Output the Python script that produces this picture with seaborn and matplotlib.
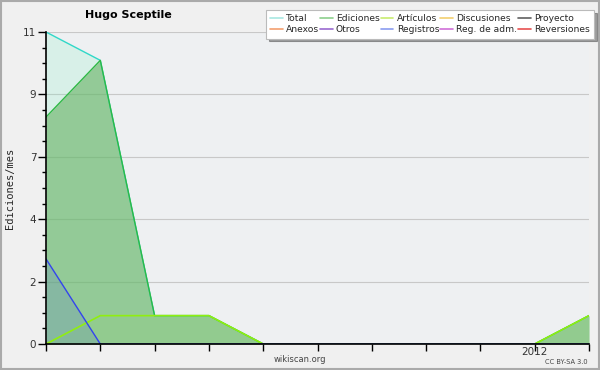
import matplotlib
matplotlib.use("Agg")
import matplotlib.pyplot as plt
import seaborn as sns
import numpy as np
import pandas as pd
from matplotlib.lines import Line2D
from matplotlib.patches import Rectangle

# ---- data ----
months = ["2011-04", "2011-05", "2011-06", "2011-07", "2011-08", "2011-09",
          "2011-10", "2011-11", "2011-12", "2012-01", "2012-02"]
total = [11, 10, 1, 1, 0, 0, 0, 0, 0, 0, 1]
ediciones = [8, 10, 1, 1, 0, 0, 0, 0, 0, 0, 1]
articulos = [0, 1, 1, 1, 0, 0, 0, 0, 0, 0, 1]
registros = [3, 0, 0, 0, 0, 0, 0, 0, 0, 0, 0]
ytick_vals = [0, 2.2, 4.4, 6.6, 8.8, 11]
ytick_labels = ["0", "2", "4", "7", "9", "11"]
xtick_labels = ["", "", "", "", "", "", "", "", "", "2012", ""]

legend_names = ["Total", "Anexos", "Ediciones", "Otros", "Artículos", "Registros",
                "Discusiones", "Reg. de adm.", "Proyecto", "Reversiones"]
legend_colors = ["#a8e8e2", "#f4a070", "#8cd08c", "#9a6ad0", "#c8ec70", "#8a9cf0",
                 "#f2d070", "#d070d8", "#606060", "#e85050"]

df = pd.DataFrame({"i": np.arange(len(months)), "Total": total, "Ediciones": ediciones,
                   "Artículos": articulos, "Registros": registros})

sns.set_style("white")
plt.rcParams["font.family"] = ["DejaVu Sans"]

fig = plt.figure(figsize=(6, 3.7), dpi=100, facecolor="#f0f0f0")
ax = fig.add_axes([46/600, 1-344/370, (589-46)/600, (344-32)/370])
ax.set_facecolor("#eef0f2")

x = df["i"].values
ax.fill_between(x, df["Total"], color="#80f0c0", alpha=0.2, lw=0)
ax.fill_between(x, df["Ediciones"], color="#65b161", alpha=0.6, lw=0)
ax.fill_between(x, df["Artículos"], color="#88ee00", alpha=0.05, lw=0)
ax.fill_between(x, df["Registros"], color="#3344ee", alpha=0.13, lw=0)

sns.lineplot(data=df, x="i", y="Total", ax=ax, color="#30d8c8", lw=1.0)
sns.lineplot(data=df, x="i", y="Ediciones", ax=ax, color="#2eb844", lw=1.0)
sns.lineplot(data=df, x="i", y="Artículos", ax=ax, color="#90ee10", lw=1.2)
sns.lineplot(data=df, x="i", y="Registros", ax=ax, color="#3344ee", lw=1.0)

ax.set_xlim(0, len(months) - 1)
ax.set_ylim(0, 11)
ax.set_yticks(ytick_vals)
ax.set_yticklabels(ytick_labels)
ax.set_yticks(np.arange(0, 11.01, 0.55), minor=True)
ax.set_xticks(x)
ax.set_xticklabels(xtick_labels)
ax.tick_params(axis="y", which="major", length=6, width=1, color="black",
               labelsize=7.5, labelcolor="#333333", pad=1, left=True)
ax.tick_params(axis="y", which="minor", length=3, width=1, color="black", left=True)
ax.tick_params(axis="x", which="major", length=5, width=1, color="black",
               labelsize=7.5, labelcolor="#333333", pad=-3, bottom=True,
               direction="out")
ax.grid(axis="y", which="major", color="#c8c8c8", lw=0.8)
for gl in ax.get_ygridlines():
    gl.set_zorder(0.5)
for s in ["top", "right"]:
    ax.spines[s].set_visible(False)
for s in ["left", "bottom"]:
    ax.spines[s].set_color("black")
    ax.spines[s].set_linewidth(1.2)
ax.set_xlabel("")
ax.set_ylabel("Ediciones/mes", family="DejaVu Sans Mono", fontsize=7.5)
ax.yaxis.set_label_coords(-0.058, 0.5)

fig.text(85/600, 1-15/370, "Hugo Sceptile", fontsize=8, fontweight="bold",
         ha="left", va="center", color="black")
fig.text(300/600, 1-360/370, "wikiscan.org", fontsize=6, ha="center", va="center",
         color="#444444")
fig.text(588/600, 1-362/370, "CC BY-SA 3.0", fontsize=4.8, ha="right", va="center",
         color="#444444")

handles = [Line2D([0], [0], color=c, lw=1.2) for c in legend_colors]
leg = fig.legend(handles, legend_names, ncol=5, loc="upper right",
                 bbox_to_anchor=(594/600, 1-10/370), fontsize=6.6, frameon=True,
                 fancybox=False, shadow=True, handlelength=1.4, handletextpad=0.35,
                 columnspacing=0.1, labelspacing=0.25, borderpad=0.45,
                 borderaxespad=0)
leg.get_frame().set_facecolor("white")
leg.get_frame().set_edgecolor("#bbbbbb")
leg.get_frame().set_linewidth(0.8)

fig.patches.append(Rectangle((0.002, 0.003), 0.996, 0.994, transform=fig.transFigure,
                             fill=False, edgecolor="#aaaaaa", lw=1.5))

fig.savefig("out.png", dpi=100, facecolor=fig.get_facecolor())
